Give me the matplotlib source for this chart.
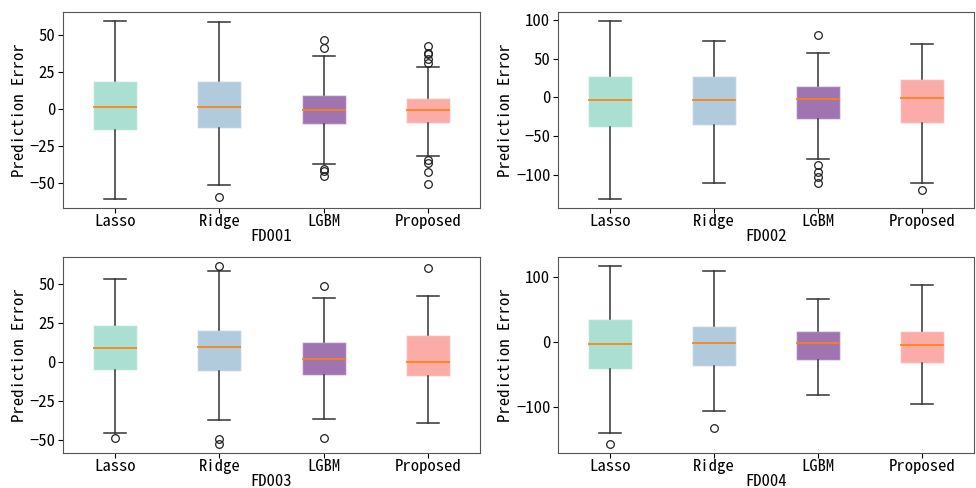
import matplotlib
matplotlib.use("Agg")
import matplotlib.pyplot as plt

plt.rcParams['font.family'] = ['Noto Sans Mono CJK SC', 'Noto Sans CJK SC', 'DejaVu Sans']
plt.rcParams['axes.unicode_minus'] = True

models = ["Lasso", "Ridge", "LGBM", "Proposed"]
datasets = ["FD001", "FD002", "FD003", "FD004"]
colors = ["#aadfd2", "#b1cbdc", "#a074b0", "#fbaca8"]
yticks = [[-50, -25, 0, 25, 50], [-100, -50, 0, 50, 100],
          [-50, -25, 0, 25, 50], [-100, 0, 100]]

# per dataset, per model: (whislo, q1, median, q3, whishi)
stats_FD001 = [(-61, -13.9, 1.1, 19.1, 59.6), (-51.3, -12.6, 1.1, 18.6, 58.7),
               (-37, -10.1, -0.4, 9.2, 35.9), (-31.8, -9.6, -0.4, 7.2, 28.5)]
fliers_FD001 = [[], [-59.4], [46.6, 41, -40.4, -42.2, -45.3],
                [42.6, 38.1, 37, 33.6, 31.4, -34.8, -36.3, -42.6, -50.9]]
stats_FD002 = [(-130.6, -37.9, -3, 28.1, 98.3), (-109.4, -35.3, -3, 28.1, 71.9),
               (-78.7, -28.1, -2.6, 14.5, 57), (-110.2, -33.2, -0.9, 23.4, 68.9)]
fliers_FD002 = [[], [], [80.4, -87.2, -95.7, -102, -109.3], [-119.1]]
stats_FD003 = [(-45.9, -5.1, 9, 23.7, 53.4), (-37.6, -6, 9.2, 20.7, 58.3),
               (-37, -8.8, 1.5, 12.6, 41), (-39.5, -9.2, 0, 16.9, 42.3)]
fliers_FD003 = [[-49.1], [61.5, -49.8, -52.8], [48.3, -48.7], [60.3]]
stats_FD004 = [(-140.9, -41.6, -3.1, 35.5, 117.7), (-106, -37.2, -1, 25.7, 110),
               (-81.2, -27.2, -1, 17, 67.4), (-95.1, -32.4, -3.6, 18, 87.9)]
fliers_FD004 = [[-157.3], [-132.6], [], []]

all_stats = [stats_FD001, stats_FD002, stats_FD003, stats_FD004]
all_fliers = [fliers_FD001, fliers_FD002, fliers_FD003, fliers_FD004]

fig = plt.figure(figsize=(9.76, 4.88), dpi=100)
positions = [[63/976, 1-208/488, 417/976, 196/488],
             [558/976, 1-208/488, 416/976, 196/488],
             [63/976, 1-453/488, 417/976, 196/488],
             [558/976, 1-453/488, 416/976, 196/488]]

for i, name in enumerate(datasets):
    ax = fig.add_axes(positions[i])
    bxs = []
    for j, m in enumerate(models):
        lo, q1, med, q3, hi = all_stats[i][j]
        bxs.append(dict(label=m, whislo=lo, q1=q1, med=med, q3=q3, whishi=hi,
                        fliers=all_fliers[i][j]))
    bp = ax.bxp(bxs, widths=0.42, patch_artist=True,
                medianprops=dict(color="#ff7f0e", linewidth=1.2),
                whiskerprops=dict(color="#333333", linewidth=1.1),
                capprops=dict(color="#333333", linewidth=1.1),
                flierprops=dict(marker='o', markerfacecolor='none',
                                markeredgecolor='#222222', markersize=5.5,
                                markeredgewidth=0.9))
    for patch, c in zip(bp['boxes'], colors):
        patch.set_facecolor(c)
        patch.set_edgecolor((1, 1, 1, 0.5))
        patch.set_linewidth(1.0)
    ax.set_yticks(yticks[i])
    ax.set_xlabel(name, fontsize=12, labelpad=0)
    ax.set_ylabel("Prediction Error", fontsize=12, labelpad=2)
    ax.tick_params(axis='x', labelsize=12, pad=1)
    ax.tick_params(axis='y', labelsize=12, pad=2)
    for s in ax.spines.values():
        s.set_color("#555555")

fig.savefig("out.png", dpi=100)
